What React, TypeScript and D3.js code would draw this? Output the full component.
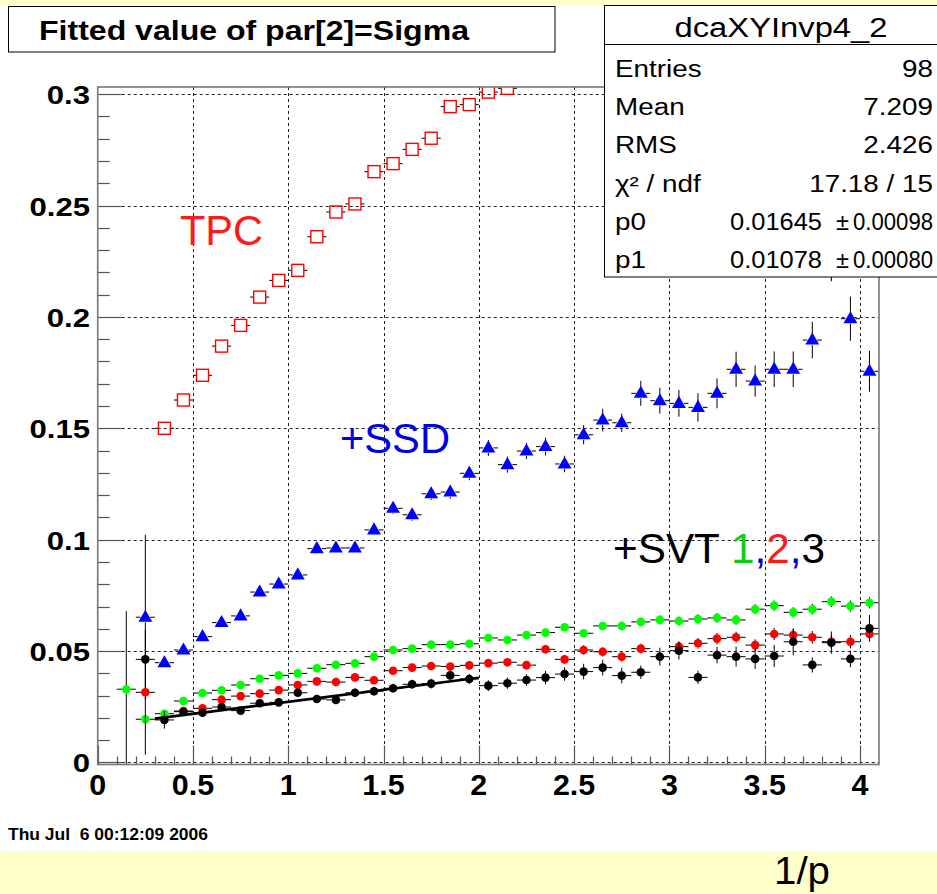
import React, { useEffect, useRef } from 'react';
import * as d3 from 'd3';

const W = 937;
const H = 894;

// ---------------- data ----------------
const TPC_X = [0.35, 0.45, 0.55, 0.65, 0.75, 0.85, 0.95, 1.05, 1.15, 1.25, 1.35, 1.45, 1.55, 1.65, 1.75, 1.85, 1.95, 2.05, 2.15];
const TPC_Y = [0.150, 0.1627, 0.1738, 0.1869, 0.1962, 0.2089, 0.2164, 0.2209, 0.2360, 0.2471, 0.2507, 0.2652, 0.2688, 0.2752, 0.2802, 0.2944, 0.2953, 0.3009, 0.3026];
const TPC_E = [0.0015, 0.001, 0.0009, 0.0009, 0.0009, 0.0009, 0.0009, 0.0009, 0.0009, 0.0009, 0.0009, 0.001, 0.001, 0.001, 0.001, 0.0011, 0.0011, 0.0012, 0.0012];

const SSD_X = [0.25, 0.35, 0.45, 0.55, 0.65, 0.75, 0.85, 0.95, 1.05, 1.15, 1.25, 1.35, 1.45, 1.55, 1.65, 1.75, 1.85, 1.95, 2.05, 2.15, 2.25, 2.35, 2.45, 2.55, 2.65, 2.75, 2.85, 2.95, 3.05, 3.15, 3.25, 3.35, 3.45, 3.55, 3.65, 3.75, 3.85, 3.95, 4.05];
const SSD_Y = [0.0652, 0.0448, 0.0505, 0.0565, 0.0628, 0.0658, 0.0765, 0.0801, 0.0842, 0.0960, 0.0963, 0.0963, 0.1044, 0.1141, 0.1112, 0.1206, 0.1214, 0.1298, 0.1412, 0.1337, 0.1398, 0.1418, 0.1340, 0.1471, 0.1537, 0.1525, 0.1657, 0.1624, 0.1612, 0.1594, 0.1657, 0.1765, 0.1712, 0.1765, 0.1765, 0.1896, 0.232, 0.1992, 0.1756];
const SSD_E = [0.037, 0.0013, 0.0014, 0.0015, 0.0016, 0.0017, 0.0018, 0.0019, 0.002, 0.0021, 0.0022, 0.0023, 0.0024, 0.0025, 0.0027, 0.0028, 0.003, 0.0031, 0.0036, 0.0036, 0.0036, 0.004, 0.0037, 0.0043, 0.0051, 0.0041, 0.0056, 0.0058, 0.006, 0.0064, 0.0067, 0.0079, 0.007, 0.008, 0.008, 0.0082, 0.016, 0.0099, 0.0092];

const SVT1_X = [0.15, 0.25, 0.35, 0.45, 0.55, 0.65, 0.75, 0.85, 0.95, 1.05, 1.15, 1.25, 1.35, 1.45, 1.55, 1.65, 1.75, 1.85, 1.95, 2.05, 2.15, 2.25, 2.35, 2.45, 2.55, 2.65, 2.75, 2.85, 2.95, 3.05, 3.15, 3.25, 3.35, 3.45, 3.55, 3.65, 3.75, 3.85, 3.95, 4.05];
const SVT1_Y = [0.0329, 0.0194, 0.0219, 0.0276, 0.0312, 0.0324, 0.0348, 0.0376, 0.0391, 0.0400, 0.0423, 0.0439, 0.0445, 0.0475, 0.0505, 0.0511, 0.0529, 0.0529, 0.0533, 0.0559, 0.0550, 0.0572, 0.0583, 0.0607, 0.0580, 0.0613, 0.0613, 0.0631, 0.0640, 0.0635, 0.0644, 0.0649, 0.0640, 0.0688, 0.0704, 0.0674, 0.0688, 0.0722, 0.0702, 0.0717];
const SVT1_E = [0.035, 0.002, 0.0012, 0.0012, 0.0012, 0.0012, 0.0012, 0.0012, 0.0012, 0.0012, 0.0013, 0.0013, 0.0013, 0.0013, 0.0014, 0.0014, 0.0014, 0.0015, 0.0015, 0.0015, 0.0016, 0.0016, 0.0017, 0.0017, 0.0018, 0.0018, 0.0019, 0.0019, 0.002, 0.002, 0.0021, 0.0021, 0.0022, 0.0022, 0.0023, 0.0023, 0.0024, 0.0024, 0.0025, 0.0025];

const SVT2_X = [0.25, 0.45, 0.55, 0.65, 0.75, 0.85, 0.95, 1.05, 1.15, 1.25, 1.35, 1.45, 1.55, 1.65, 1.75, 1.85, 1.95, 2.05, 2.15, 2.25, 2.35, 2.45, 2.55, 2.65, 2.75, 2.85, 3.05, 3.15, 3.25, 3.35, 3.45, 3.55, 3.65, 3.75, 3.85, 3.95, 4.05];
const SVT2_Y = [0.0315, 0.0231, 0.0243, 0.0282, 0.0298, 0.0309, 0.0325, 0.0348, 0.0364, 0.0361, 0.0382, 0.0369, 0.0412, 0.0426, 0.0433, 0.0431, 0.0436, 0.0446, 0.0450, 0.0437, 0.0508, 0.0463, 0.0505, 0.0497, 0.0475, 0.0511, 0.0520, 0.0535, 0.0556, 0.0562, 0.0527, 0.0577, 0.0572, 0.0562, 0.0542, 0.0542, 0.0577];
const SVT2_E = [0.028, 0.0014, 0.0014, 0.0014, 0.0014, 0.0015, 0.0015, 0.0015, 0.0015, 0.0016, 0.0016, 0.0016, 0.0017, 0.0017, 0.0017, 0.0018, 0.0018, 0.0018, 0.0019, 0.0019, 0.002, 0.002, 0.0021, 0.0021, 0.0022, 0.0022, 0.0023, 0.0024, 0.0025, 0.0025, 0.0026, 0.0027, 0.0027, 0.0028, 0.0029, 0.003, 0.003];

const SVT3_X = [0.25, 0.35, 0.45, 0.55, 0.65, 0.75, 0.85, 0.95, 1.05, 1.15, 1.25, 1.35, 1.45, 1.55, 1.65, 1.75, 1.85, 1.95, 2.05, 2.15, 2.25, 2.35, 2.45, 2.55, 2.65, 2.75, 2.85, 2.95, 3.05, 3.15, 3.25, 3.35, 3.45, 3.55, 3.65, 3.75, 3.85, 3.95, 4.05];
const SVT3_Y = [0.0463, 0.0191, 0.0228, 0.0224, 0.0249, 0.0233, 0.0266, 0.0270, 0.0313, 0.0285, 0.0281, 0.0313, 0.0320, 0.0333, 0.0351, 0.0354, 0.0391, 0.0375, 0.0345, 0.0356, 0.0370, 0.0381, 0.0397, 0.0408, 0.0426, 0.0390, 0.0405, 0.0475, 0.0502, 0.0382, 0.0482, 0.0475, 0.0465, 0.0478, 0.0542, 0.0438, 0.0538, 0.0465, 0.0602];
const SVT3_E = [0.002, 0.0039, 0.0015, 0.0015, 0.0015, 0.0015, 0.0016, 0.0016, 0.0017, 0.0018, 0.0018, 0.0019, 0.002, 0.002, 0.0021, 0.0022, 0.0022, 0.0023, 0.0024, 0.0025, 0.0026, 0.003, 0.003, 0.0035, 0.0035, 0.0035, 0.003, 0.004, 0.004, 0.003, 0.0037, 0.0045, 0.0045, 0.005, 0.006, 0.0034, 0.005, 0.0037, 0.006];

const BIN_HALF_WIDTH = 0.05;
const FIT_P0 = 0.01645;
const FIT_P1 = 0.01078;
const FIT_RANGE = [0.3, 2.0];

const X_TICKS = [0, 0.5, 1, 1.5, 2, 2.5, 3, 3.5, 4];
const X_TICK_LABELS = ['0', '0.5', '1', '1.5', '2', '2.5', '3', '3.5', '4'];
const Y_TICKS = [0, 0.05, 0.1, 0.15, 0.2, 0.25, 0.3];
const Y_TICK_LABELS = ['0', '0.05', '0.1', '0.15', '0.2', '0.25', '0.3'];
const X_DOMAIN = [0, 4.1];
const Y_DOMAIN = [-0.0009, 0.3032];

const TITLE = 'Fitted value of par[2]=Sigma';
const STATS_NAME = 'dcaXYInvp4_2';
const STATS_LABELS = ['Entries', 'Mean', 'RMS', 'χ² / ndf', 'p0', 'p1'];
const STATS_VALUES = ['98', '7.209', '2.426', '17.18 / 15', '0.01645', '0.01078'];
const STATS_ERRORS = ['', '', '', '', '0.00098', '0.00080'];
const DATE_TEXT = 'Thu Jul  6 00:12:09 2006';
const X_TITLE = '1/p';

const FONT = '"Liberation Sans", Arial, Helvetica, sans-serif';

type TextOpts = {
  x: number; y: number; text?: string; size: number; weight?: string | number;
  anchor?: 'start' | 'middle' | 'end'; sx?: number; w?: number; fill?: string;
  parts?: { t: string; c: string }[];
};

function addText(g: any, o: TextOpts) {
  const t = g.append('text')
    .attr('x', o.x).attr('y', o.y)
    .attr('font-family', FONT)
    .attr('font-size', o.size)
    .attr('font-weight', o.weight ?? 'normal')
    .attr('fill', o.fill ?? '#000')
    .style('white-space', 'pre');
  if (o.parts) {
    o.parts.forEach((p) => t.append('tspan').attr('fill', p.c).text(p.t));
  } else {
    t.text(o.text ?? '');
  }
  const n = (t.node() as SVGTextElement).getComputedTextLength();
  const w = o.w ?? n * (o.sx ?? 1);
  const anchor = o.anchor ?? 'start';
  const x0 = anchor === 'end' ? o.x - w : anchor === 'middle' ? o.x - w / 2 : o.x;
  t.attr('x', x0).attr('textLength', w).attr('lengthAdjust', 'spacingAndGlyphs');
  return t;
}

export default function App() {
  const ref = useRef<SVGSVGElement | null>(null);

  useEffect(() => {
    const svg = d3.select(ref.current);
    svg.selectAll('*').remove();

    const L = 97.7, R = 879, T = 87, B = 764.5;
    const x = d3.scaleLinear().domain(X_DOMAIN).range([L, R]);
    const y = d3.scaleLinear().domain(Y_DOMAIN).range([B, T]);

    // background
    svg.append('rect').attr('x', 0).attr('y', 0).attr('width', W).attr('height', H).attr('fill', '#fff');
    svg.append('rect').attr('x', 0).attr('y', 0).attr('width', W).attr('height', 5).attr('fill', '#ffffcc');
    svg.append('rect').attr('x', 0).attr('y', 851).attr('width', W).attr('height', H - 851).attr('fill', '#ffffcc');

    svg.append('defs').append('clipPath').attr('id', 'frameClip')
      .append('rect').attr('x', L).attr('y', T).attr('width', R - L).attr('height', B - T);

    // grid
    const grid = svg.append('g').attr('stroke', '#222').attr('stroke-width', 1).attr('stroke-dasharray', '3 3');
    X_TICKS.forEach((v) => {
      if (v === 0) return;
      grid.append('line').attr('x1', Math.round(x(v)) + 0.5).attr('x2', Math.round(x(v)) + 0.5).attr('y1', T).attr('y2', B);
    });
    Y_TICKS.forEach((v) => {
      grid.append('line').attr('x1', L).attr('x2', R).attr('y1', Math.round(y(v)) + 0.5).attr('y2', Math.round(y(v)) + 0.5);
    });

    // axis ticks
    const ticks = svg.append('g').attr('stroke', '#555').attr('stroke-width', 1.2);
    const yMinor = d3.range(0, 31).map((i) => i * 0.01);
    yMinor.forEach((v) => {
      const major = Math.abs(v * 20 - Math.round(v * 20)) < 1e-6;
      const py = Math.round(y(v)) + 0.5;
      ticks.append('line').attr('x1', L).attr('x2', L + (major ? 24 : 12)).attr('y1', py).attr('y2', py);
    });
    const xMinor = d3.range(0, 42).map((i) => i * 0.1);
    xMinor.forEach((v) => {
      if (v > X_DOMAIN[1]) return;
      const major = Math.abs(v * 2 - Math.round(v * 2)) < 1e-6;
      const px = Math.round(x(v)) + 0.5;
      ticks.append('line').attr('x1', px).attr('x2', px).attr('y1', B).attr('y2', B - (major ? 19 : 8));
    });

    // data
    const plot = svg.append('g').attr('clip-path', 'url(#frameClip)');

    const drawErrors = (xs: number[], ys: number[], es: number[], gap: number) => {
      const g = plot.append('g').attr('stroke', '#000').attr('stroke-width', 1);
      xs.forEach((xv, i) => {
        const cx = x(xv), cy = y(ys[i]);
        const xl = x(xv - BIN_HALF_WIDTH), xr = x(xv + BIN_HALF_WIDTH);
        g.append('line').attr('x1', xl).attr('x2', cx - gap).attr('y1', cy).attr('y2', cy);
        g.append('line').attr('x1', cx + gap).attr('x2', xr).attr('y1', cy).attr('y2', cy);
        const yt = y(ys[i] + es[i]), yb = y(ys[i] - es[i]);
        if (cy - yt > gap) g.append('line').attr('x1', cx).attr('x2', cx).attr('y1', yt).attr('y2', cy - gap);
        if (yb - cy > gap) g.append('line').attr('x1', cx).attr('x2', cx).attr('y1', cy + gap).attr('y2', yb);
      });
    };

    // TPC: open red squares
    drawErrors(TPC_X, TPC_Y, TPC_E, 6);
    plot.append('g').selectAll('rect').data(TPC_X).join('rect')
      .attr('x', (d) => x(d) - 6).attr('y', (d, i) => y(TPC_Y[i]) - 6)
      .attr('width', 12).attr('height', 12)
      .attr('fill', 'none').attr('stroke', '#ff0000').attr('stroke-width', 1.4);

    // SSD: blue triangles
    drawErrors(SSD_X, SSD_Y, SSD_E, 5);
    const tri = d3.symbol().type(d3.symbolTriangle).size(84);
    plot.append('g').selectAll('path').data(SSD_X).join('path')
      .attr('d', tri as any)
      .attr('transform', (d, i) => `translate(${x(d)},${y(SSD_Y[i]) + 0.5})`)
      .attr('fill', '#0000ff');

    const circles = (xs: number[], ys: number[], es: number[], color: string) => {
      drawErrors(xs, ys, es, 4);
      plot.append('g').selectAll('circle').data(xs).join('circle')
        .attr('cx', (d) => x(d)).attr('cy', (d, i) => y(ys[i])).attr('r', 4.3)
        .attr('fill', color);
    };
    circles(SVT1_X, SVT1_Y, SVT1_E, '#00ff00');
    circles(SVT2_X, SVT2_Y, SVT2_E, '#ff0000');
    circles(SVT3_X, SVT3_Y, SVT3_E, '#000000');

    // fit line
    const fitLine = d3.line<number>().x((d) => x(d)).y((d) => y(FIT_P0 + FIT_P1 * d));
    plot.append('path').datum(FIT_RANGE).attr('d', fitLine as any)
      .attr('stroke', '#000').attr('stroke-width', 2.6).attr('fill', 'none');

    // frame
    svg.append('rect').attr('x', L).attr('y', T).attr('width', R - L).attr('height', B - T)
      .attr('fill', 'none').attr('stroke', '#777').attr('stroke-width', 1.6);

    // tick labels
    Y_TICKS.forEach((v, i) => {
      addText(svg, { x: 90, y: y(v) + 10, text: Y_TICK_LABELS[i], size: 25.5, weight: 'bold', anchor: 'end', sx: 1.22 });
    });
    X_TICKS.forEach((v, i) => {
      addText(svg, { x: x(v), y: 795, text: X_TICK_LABELS[i], size: 29, weight: 'bold', anchor: 'middle', sx: 1.05 });
    });

    // annotations
    addText(svg, { x: 180, y: 245, text: 'TPC', size: 42, fill: '#ff1a1a', w: 83 });
    addText(svg, { x: 340, y: 453, text: '+SSD', size: 42, fill: '#0000e6', w: 110 });
    addText(svg, {
      x: 613, y: 563, size: 42, w: 212,
      parts: [
        { t: '+SVT ', c: '#000' }, { t: '1', c: '#11cc11' }, { t: ',', c: '#0000cc' },
        { t: '2', c: '#ff1a1a' }, { t: ',', c: '#0000cc' }, { t: '3', c: '#000' },
      ],
    });

    // title box
    svg.append('rect').attr('x', 8.5).attr('y', 6.5).attr('width', 546.5).attr('height', 45.5)
      .attr('fill', '#fff').attr('stroke', '#000').attr('stroke-width', 1);
    addText(svg, { x: 39, y: 40, text: TITLE, size: 27, weight: 'bold', w: 430 });

    // stats box
    const sb = svg.append('g');
    sb.append('rect').attr('x', 604.5).attr('y', 5.5).attr('width', 340).attr('height', 271.5)
      .attr('fill', '#fff').attr('stroke', '#000').attr('stroke-width', 1);
    sb.append('line').attr('x1', 604.5).attr('x2', W).attr('y1', 44.5).attr('y2', 44.5).attr('stroke', '#000');
    addText(sb, { x: 781, y: 37, text: STATS_NAME, size: 27, anchor: 'middle', w: 213 });
    const rowY = [76.5, 115, 153.3, 191.7, 230, 268.3];
    STATS_LABELS.forEach((lab, i) => {
      addText(sb, { x: 615, y: rowY[i], text: lab, size: 23, sx: 1.21 });
      if (STATS_ERRORS[i]) {
        addText(sb, { x: 822, y: rowY[i], text: STATS_VALUES[i], size: 23, anchor: 'end', w: 92 });
        addText(sb, { x: 836, y: rowY[i], text: '±', size: 23, w: 13 });
        addText(sb, { x: 933, y: rowY[i], text: STATS_ERRORS[i], size: 23, anchor: 'end', w: 80 });
      } else {
        addText(sb, { x: 933, y: rowY[i], text: STATS_VALUES[i], size: 23, anchor: 'end', sx: 1.21 });
      }
    });

    // date & axis title
    addText(svg, { x: 8, y: 840, text: DATE_TEXT, size: 17, weight: 'bold', w: 200 });
    addText(svg, { x: 774, y: 884, text: X_TITLE, size: 38, w: 56 });
  }, []);

  return (
    <svg ref={ref} width={W} height={H} viewBox={`0 0 ${W} ${H}`}
      style={{ position: 'absolute', left: 0, top: 0, display: 'block' }} />
  );
}
